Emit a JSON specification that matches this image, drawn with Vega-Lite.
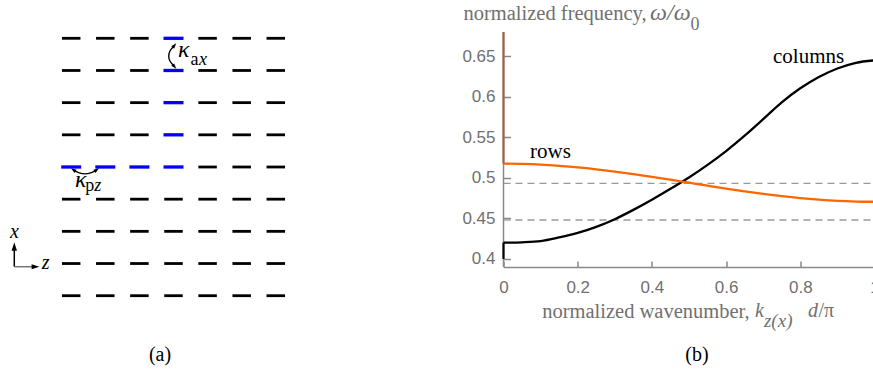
{
  "$schema": "https://vega.github.io/schema/vega-lite/v6.json",
  "background": "white",
  "padding": 0,
  "autosize": {"type": "pad"},
  "bounds": "flush",
  "spacing": 203.5,
  "config": {
    "view": {"stroke": null},
    "title": {"font": "Liberation Serif", "fontSize": 20, "fontWeight": "normal", "color": "black"}
  },
  "datasets": {
    "dashes": [
      {"c":0,"r":0,"kind":"black"},{"c":1,"r":0,"kind":"black"},{"c":2,"r":0,"kind":"black"},{"c":3,"r":0,"kind":"blue"},{"c":4,"r":0,"kind":"black"},{"c":5,"r":0,"kind":"black"},{"c":6,"r":0,"kind":"black"},
      {"c":0,"r":1,"kind":"black"},{"c":1,"r":1,"kind":"black"},{"c":2,"r":1,"kind":"black"},{"c":3,"r":1,"kind":"blue"},{"c":4,"r":1,"kind":"black"},{"c":5,"r":1,"kind":"black"},{"c":6,"r":1,"kind":"black"},
      {"c":0,"r":2,"kind":"black"},{"c":1,"r":2,"kind":"black"},{"c":2,"r":2,"kind":"black"},{"c":3,"r":2,"kind":"blue"},{"c":4,"r":2,"kind":"black"},{"c":5,"r":2,"kind":"black"},{"c":6,"r":2,"kind":"black"},
      {"c":0,"r":3,"kind":"black"},{"c":1,"r":3,"kind":"black"},{"c":2,"r":3,"kind":"black"},{"c":3,"r":3,"kind":"blue"},{"c":4,"r":3,"kind":"black"},{"c":5,"r":3,"kind":"black"},{"c":6,"r":3,"kind":"black"},
      {"c":0,"r":4,"kind":"blue"},{"c":1,"r":4,"kind":"blue"},{"c":2,"r":4,"kind":"blue"},{"c":3,"r":4,"kind":"blue"},{"c":4,"r":4,"kind":"black"},{"c":5,"r":4,"kind":"black"},{"c":6,"r":4,"kind":"black"},
      {"c":0,"r":5,"kind":"black"},{"c":1,"r":5,"kind":"black"},{"c":2,"r":5,"kind":"black"},{"c":3,"r":5,"kind":"black"},{"c":4,"r":5,"kind":"black"},{"c":5,"r":5,"kind":"black"},{"c":6,"r":5,"kind":"black"},
      {"c":0,"r":6,"kind":"black"},{"c":1,"r":6,"kind":"black"},{"c":2,"r":6,"kind":"black"},{"c":3,"r":6,"kind":"black"},{"c":4,"r":6,"kind":"black"},{"c":5,"r":6,"kind":"black"},{"c":6,"r":6,"kind":"black"},
      {"c":0,"r":7,"kind":"black"},{"c":1,"r":7,"kind":"black"},{"c":2,"r":7,"kind":"black"},{"c":3,"r":7,"kind":"black"},{"c":4,"r":7,"kind":"black"},{"c":5,"r":7,"kind":"black"},{"c":6,"r":7,"kind":"black"},
      {"c":0,"r":8,"kind":"black"},{"c":1,"r":8,"kind":"black"},{"c":2,"r":8,"kind":"black"},{"c":3,"r":8,"kind":"black"},{"c":4,"r":8,"kind":"black"},{"c":5,"r":8,"kind":"black"},{"c":6,"r":8,"kind":"black"}
    ],
    "axlines": [
      {"a":"x","c":-1.669,"r":7.099,"c2":-1.669,"r2":6.58},
      {"a":"z","c":-1.669,"r":7.099,"c2":-1.12,"r2":7.099}
    ],
    "kax": [
      {"i":0,"c":3.0,"r":0.255},{"i":1,"c":2.89,"r":0.379},{"i":2,"c":2.845,"r":0.55},{"i":3,"c":2.89,"r":0.721},{"i":4,"c":3.0,"r":0.845}
    ],
    "kpz": [
      {"i":0,"c":0.0968,"r":4.118},{"i":1,"c":0.2287,"r":4.186},{"i":2,"c":0.4047,"r":4.227},{"i":3,"c":0.5806,"r":4.186},{"i":4,"c":0.7126,"r":4.118}
    ],
    "heads": [
      {"h":"ax1","c":3.029,"r":0.218},{"h":"ax2","c":3.029,"r":0.883},
      {"h":"pz1","c":0.0616,"r":4.087},{"h":"pz2","c":0.7478,"r":4.087},
      {"h":"vx","c":-1.669,"r":6.471},{"h":"hz","c":-1.047,"r":7.099}
    ],
    "ltext": [
      {"g":"kappa","c":3.132,"r":0.566,"t":"κ"},{"g":"kappa","c":0.111,"r":4.615,"t":"κ"},
      {"g":"subup","c":3.5,"r":0.833,"t":"a"},{"g":"subup","c":0.41,"r":4.74,"t":"p"},
      {"g":"subit","c":3.75,"r":0.833,"t":"x"},{"g":"subit","c":0.674,"r":4.74,"t":"z"},
      {"g":"axis","c":-1.795,"r":6.198,"t":"x"},{"g":"axis","c":-0.865,"r":7.18,"t":"z"}
    ],
    "curves": [
      {"s":"columns","k":0,"v":0.42},{"s":"columns","k":0.05,"v":0.4205},{"s":"columns","k":0.1,"v":0.422},{"s":"columns","k":0.15,"v":0.4265},{"s":"columns","k":0.2,"v":0.432},{"s":"columns","k":0.25,"v":0.4395},{"s":"columns","k":0.3,"v":0.449},{"s":"columns","k":0.35,"v":0.4605},{"s":"columns","k":0.4,"v":0.473},{"s":"columns","k":0.45,"v":0.4865},{"s":"columns","k":0.5,"v":0.5005},{"s":"columns","k":0.55,"v":0.516},{"s":"columns","k":0.6,"v":0.533},{"s":"columns","k":0.65,"v":0.552},{"s":"columns","k":0.7,"v":0.5725},{"s":"columns","k":0.75,"v":0.5932},{"s":"columns","k":0.8,"v":0.6105},{"s":"columns","k":0.85,"v":0.6245},{"s":"columns","k":0.9,"v":0.635},{"s":"columns","k":0.95,"v":0.642},{"s":"columns","k":1,"v":0.645},
      {"s":"rows","k":0,"v":0.5175},{"s":"rows","k":0.05,"v":0.5172},{"s":"rows","k":0.1,"v":0.5164},{"s":"rows","k":0.15,"v":0.5149},{"s":"rows","k":0.2,"v":0.513},{"s":"rows","k":0.25,"v":0.5106},{"s":"rows","k":0.3,"v":0.5078},{"s":"rows","k":0.35,"v":0.5047},{"s":"rows","k":0.4,"v":0.5013},{"s":"rows","k":0.45,"v":0.4977},{"s":"rows","k":0.5,"v":0.494},{"s":"rows","k":0.55,"v":0.4903},{"s":"rows","k":0.6,"v":0.4867},{"s":"rows","k":0.65,"v":0.4833},{"s":"rows","k":0.7,"v":0.4802},{"s":"rows","k":0.75,"v":0.4774},{"s":"rows","k":0.8,"v":0.475},{"s":"rows","k":0.85,"v":0.4731},{"s":"rows","k":0.9,"v":0.4716},{"s":"rows","k":0.95,"v":0.4708},{"s":"rows","k":1,"v":0.4705}
    ],
    "vsegs": [
      {"g":"axis","k":0,"v":0.39,"v2":0.68},
      {"g":"brown","k":0,"v":0.5175,"v2":0.68},
      {"g":"black","k":0,"v":0.4,"v2":0.42}
    ],
    "dashed": [
      {"k":0,"k2":1,"v":0.4932},
      {"k":0,"k2":1,"v":0.448}
    ],
    "rtext": [
      {"g":"curve","k":0.7264,"v":0.6421,"t":"columns"},{"g":"curve","k":0.0714,"v":0.5249,"t":"rows"},
      {"g":"it20","k":0.678,"v":0.3279,"t":"k"},{"g":"it20","k":0.8208,"v":0.3283,"t":"d"},
      {"g":"omega","k":0.395,"v":0.695,"t":"ω/ω"},
      {"g":"sub0","k":0.504,"v":0.6821,"t":"0"},
      {"g":"zx","k":0.7021,"v":0.3156,"t":"z(x)"},
      {"g":"pi","k":0.849,"v":0.3283,"t":"/π"}
    ]
  },
  "hconcat": [
    {
      "width": 300,
      "height": 331,
      "title": {"text": "(a)", "orient": "bottom", "anchor": "middle", "frame": "group", "offset": 13, "dx": 10},
      "encoding": {
        "x": {"field": "c", "type": "quantitative", "scale": {"domain": [-2.088, 6.71], "nice": false, "zero": false}, "axis": null},
        "y": {"field": "r", "type": "quantitative", "scale": {"domain": [-1.1593, 9.1282], "nice": false, "zero": false, "reverse": true}, "axis": null}
      },
      "layer": [
        {"data": {"name": "dashes"}, "transform": [{"filter": "datum.kind === 'black'"}], "mark": {"type": "tick", "orient": "horizontal", "size": 18.5, "thickness": 2.8, "color": "black", "opacity": 1}},
        {"data": {"name": "dashes"}, "transform": [{"filter": "datum.kind === 'blue'"}], "mark": {"type": "tick", "orient": "horizontal", "size": 20, "thickness": 3.3, "color": "#0000ff", "opacity": 1}},
        {"data": {"name": "axlines"}, "transform": [{"filter": "datum.a === 'x'"}], "mark": {"type": "rule", "color": "black", "strokeWidth": 1.5}, "encoding": {"x2": {"field": "c2"}, "y2": {"field": "r2"}}},
        {"data": {"name": "axlines"}, "transform": [{"filter": "datum.a === 'z'"}], "mark": {"type": "rule", "color": "#777777", "strokeWidth": 1.5}, "encoding": {"x2": {"field": "c2"}, "y2": {"field": "r2"}}},
        {"data": {"name": "kax"}, "mark": {"type": "line", "color": "black", "strokeWidth": 1.4, "interpolate": "basis"}, "encoding": {"order": {"field": "i", "type": "quantitative"}}},
        {"data": {"name": "kpz"}, "mark": {"type": "line", "color": "black", "strokeWidth": 1.4, "interpolate": "basis"}, "encoding": {"order": {"field": "i", "type": "quantitative"}}},
        {"data": {"name": "heads"}, "transform": [{"filter": "datum.h === 'ax1'"}], "mark": {"type": "point", "shape": "M0,-1L0.7,1L-0.7,1Z", "filled": true, "size": 30, "angle": 40, "color": "black", "opacity": 1}},
        {"data": {"name": "heads"}, "transform": [{"filter": "datum.h === 'ax2'"}], "mark": {"type": "point", "shape": "M0,-1L0.7,1L-0.7,1Z", "filled": true, "size": 30, "angle": 140, "color": "black", "opacity": 1}},
        {"data": {"name": "heads"}, "transform": [{"filter": "datum.h === 'pz1'"}], "mark": {"type": "point", "shape": "M0,-1L0.7,1L-0.7,1Z", "filled": true, "size": 30, "angle": -56, "color": "black", "opacity": 1}},
        {"data": {"name": "heads"}, "transform": [{"filter": "datum.h === 'pz2'"}], "mark": {"type": "point", "shape": "M0,-1L0.7,1L-0.7,1Z", "filled": true, "size": 30, "angle": 56, "color": "black", "opacity": 1}},
        {"data": {"name": "heads"}, "transform": [{"filter": "datum.h === 'vx'"}], "mark": {"type": "point", "shape": "M0,-1L0.63,1L-0.63,1Z", "filled": true, "size": 72, "angle": 0, "color": "black", "opacity": 1}},
        {"data": {"name": "heads"}, "transform": [{"filter": "datum.h === 'hz'"}], "mark": {"type": "point", "shape": "M0,-1L0.63,1L-0.63,1Z", "filled": true, "size": 60, "angle": 90, "color": "black", "opacity": 1}},
        {"data": {"name": "ltext"}, "transform": [{"filter": "datum.g === 'kappa'"}], "mark": {"type": "text", "font": "Liberation Serif", "fontStyle": "italic", "fontSize": 24, "align": "left", "baseline": "alphabetic", "color": "black"}, "encoding": {"text": {"field": "t"}}},
        {"data": {"name": "ltext"}, "transform": [{"filter": "datum.g === 'subup'"}], "mark": {"type": "text", "font": "Liberation Serif", "fontSize": 18, "align": "left", "baseline": "alphabetic", "color": "black"}, "encoding": {"text": {"field": "t"}}},
        {"data": {"name": "ltext"}, "transform": [{"filter": "datum.g === 'subit'"}], "mark": {"type": "text", "font": "Liberation Serif", "fontStyle": "italic", "fontSize": 18, "align": "left", "baseline": "alphabetic", "color": "black"}, "encoding": {"text": {"field": "t"}}},
        {"data": {"name": "ltext"}, "transform": [{"filter": "datum.g === 'axis'"}], "mark": {"type": "text", "font": "Liberation Serif", "fontStyle": "italic", "fontSize": 20, "align": "left", "baseline": "alphabetic", "color": "black"}, "encoding": {"text": {"field": "t"}}}
      ]
    },
    {
      "width": 371,
      "height": 266,
      "title": {"text": "(b)", "orient": "bottom", "anchor": "middle", "frame": "group", "offset": 14, "dx": 8},
      "encoding": {
        "x": {
          "field": "k", "type": "quantitative",
          "scale": {"domain": [0, 1], "nice": false, "zero": false},
          "axis": {
            "values": [0, 0.2, 0.4, 0.6, 0.8, 1], "format": "~g", "grid": false,
            "labelFont": "Liberation Sans", "labelFontSize": 17, "labelColor": "#707070", "labelFlush": false, "labelOverlap": false, "labelPadding": 18,
            "tickSize": -6, "tickColor": "#888888", "tickWidth": 1.5,
            "domainColor": "#888888", "domainWidth": 1.5,
            "title": "normalized wavenumber,", "titleFont": "Liberation Serif", "titleFontSize": 20.5, "titleFontWeight": "normal", "titleColor": "#707070",
            "titleAlign": "left", "titleBaseline": "alphabetic", "titleX": 38.2, "titleY": 50.3
          }
        },
        "y": {
          "field": "v", "type": "quantitative",
          "scale": {"domain": [0.39, 0.71826], "nice": false, "zero": false},
          "axis": {
            "values": [0.4, 0.45, 0.5, 0.55, 0.6, 0.65], "format": ".2~f", "grid": false, "domain": false,
            "labelFont": "Liberation Sans", "labelFontSize": 17, "labelColor": "#707070", "labelFlush": false, "labelOverlap": false, "labelPadding": 15.5,
            "tickSize": -7, "tickColor": "#888888", "tickWidth": 1.5,
            "title": "normalized frequency,", "titleFont": "Liberation Serif", "titleFontSize": 20.5, "titleFontWeight": "normal", "titleColor": "#707070",
            "titleAngle": 0, "titleAlign": "left", "titleBaseline": "alphabetic", "titleX": -40.5, "titleY": 18.5
          }
        }
      },
      "layer": [
        {"data": {"name": "dashed"}, "mark": {"type": "rule", "color": "#999999", "strokeWidth": 1.3, "strokeDash": [7, 5]}, "encoding": {"x2": {"field": "k2"}}},
        {"data": {"name": "vsegs"}, "transform": [{"filter": "datum.g === 'axis'"}], "mark": {"type": "rule", "color": "#888888", "strokeWidth": 1.5}, "encoding": {"y2": {"field": "v2"}}},
        {"data": {"name": "vsegs"}, "transform": [{"filter": "datum.g === 'brown'"}], "mark": {"type": "rule", "color": "#9e6446", "strokeWidth": 2.2}, "encoding": {"y2": {"field": "v2"}}},
        {"data": {"name": "vsegs"}, "transform": [{"filter": "datum.g === 'black'"}], "mark": {"type": "rule", "color": "black", "strokeWidth": 2.2}, "encoding": {"y2": {"field": "v2"}}},
        {"data": {"name": "curves"}, "mark": {"type": "line", "strokeWidth": 2.3, "interpolate": "monotone"}, "encoding": {"color": {"field": "s", "type": "nominal", "scale": {"domain": ["columns", "rows"], "range": ["#000000", "#ff6600"]}, "legend": null}}},
        {"data": {"name": "rtext"}, "transform": [{"filter": "datum.g === 'curve'"}], "mark": {"type": "text", "font": "Liberation Serif", "fontSize": 21, "align": "left", "baseline": "alphabetic", "color": "black"}, "encoding": {"text": {"field": "t"}}},
        {"data": {"name": "rtext"}, "transform": [{"filter": "datum.g === 'it20'"}], "mark": {"type": "text", "font": "Liberation Serif", "fontStyle": "italic", "fontSize": 20, "align": "left", "baseline": "alphabetic", "color": "#707070"}, "encoding": {"text": {"field": "t"}}},
        {"data": {"name": "rtext"}, "transform": [{"filter": "datum.g === 'omega'"}], "mark": {"type": "text", "font": "Liberation Serif", "fontStyle": "italic", "fontSize": 24, "align": "left", "baseline": "alphabetic", "color": "#707070"}, "encoding": {"text": {"field": "t"}}},
        {"data": {"name": "rtext"}, "transform": [{"filter": "datum.g === 'sub0'"}], "mark": {"type": "text", "font": "Liberation Serif", "fontSize": 18, "align": "left", "baseline": "alphabetic", "color": "#707070"}, "encoding": {"text": {"field": "t"}}},
        {"data": {"name": "rtext"}, "transform": [{"filter": "datum.g === 'zx'"}], "mark": {"type": "text", "font": "Liberation Serif", "fontStyle": "italic", "fontSize": 19, "align": "left", "baseline": "alphabetic", "color": "#707070"}, "encoding": {"text": {"field": "t"}}},
        {"data": {"name": "rtext"}, "transform": [{"filter": "datum.g === 'pi'"}], "mark": {"type": "text", "font": "Liberation Serif", "fontSize": 20, "align": "left", "baseline": "alphabetic", "color": "#707070"}, "encoding": {"text": {"field": "t"}}}
      ]
    }
  ]
}
